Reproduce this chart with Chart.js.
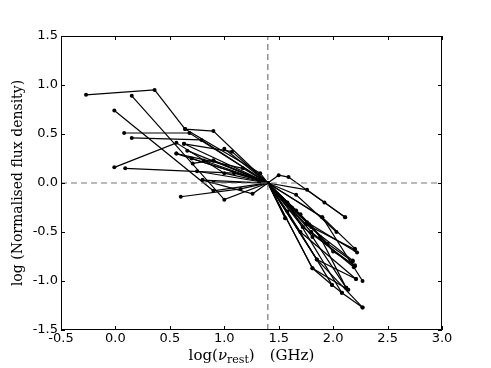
<!DOCTYPE html>
<html lang="en">
<head>
    <meta charset="UTF-8">
    <title>Normalised spectra</title>
    <script src="https://cdn.jsdelivr.net/npm/chart.js"></script>
    <style>
        body { margin: 0; background: #ffffff; }
        #wrap { width: 491px; height: 368px; }
    </style>
</head>
<body>
    <div id="wrap"><canvas id="specChart" width="491" height="368"></canvas></div>

    <script>
        // Axis ticks
        const xTicks = [-0.5, 0.0, 0.5, 1.0, 1.5, 2.0, 2.5, 3.0];
        const yTicks = [-1.5, -1.0, -0.5, 0.0, 0.5, 1.0, 1.5];

        // Normalisation frequency (dashed reference lines)
        const normFreq = 1.4;
        const normFlux = 0.0;

        // One spectrum per source: log frequency, log normalised flux density
        const freqs = [
            [-0.27, 0.36, 0.64, 0.90, 1.40, 1.80, 2.20],
            [0.15, 1.00, 1.40, 1.85, 2.21],
            [-0.01, 0.90, 1.40, 1.56],
            [0.08, 0.68, 1.40, 1.66, 2.03],
            [0.15, 0.79, 1.40, 1.76, 2.11],
            [-0.01, 0.56, 1.00, 1.40, 1.90, 2.20],
            [0.09, 1.09, 1.40, 1.81, 2.14],
            [0.60, 1.15, 1.40, 1.58, 1.99],
            [0.63, 1.07, 1.40, 1.50, 1.59, 1.92, 2.11],
            [0.56, 1.17, 1.40, 1.56],
            [0.71, 0.90, 1.40, 1.85, 2.27],
            [0.81, 1.40, 1.81, 1.99, 2.08],
            [0.80, 1.26, 1.40, 1.75, 2.18],
            [0.90, 1.40, 1.80, 2.19],
            [1.00, 1.40, 1.90, 2.27],
            [0.64, 1.33, 1.40, 1.76, 2.22],
            [0.90, 1.40, 1.72, 2.20],
            [0.56, 1.40, 1.81, 2.12],
            [0.80, 1.40, 1.58, 2.08, 2.27],
            [0.63, 1.40, 1.70, 2.21],
            [0.70, 1.40, 1.62, 1.78, 2.00, 2.20],
            [0.75, 1.40, 1.70, 1.95, 2.18],
            [0.66, 1.40, 1.66, 1.88, 2.12]
        ];
        const fluxes = [
            [0.90, 0.95, 0.55, 0.53, 0.00, -0.45, -0.68],
            [0.89, -0.17, 0.00, -0.78, -0.98],
            [0.74, -0.08, 0.00, -0.36],
            [0.51, 0.51, 0.00, -0.12, -0.50],
            [0.46, 0.44, 0.00, -0.07, -0.35],
            [0.16, 0.41, 0.10, 0.00, -0.35, -0.67],
            [0.15, 0.10, 0.00, -0.87, -1.09],
            [-0.14, -0.06, 0.00, -0.29, -1.04],
            [0.40, 0.32, 0.00, 0.08, 0.06, -0.20, -0.35],
            [0.30, 0.15, 0.00, -0.36],
            [0.20, 0.23, 0.00, -0.78, -1.27],
            [0.23, 0.00, -0.87, -1.04, -1.12],
            [0.03, -0.11, 0.00, -0.42, -0.79],
            [0.01, 0.00, -0.50, -0.86],
            [0.35, 0.00, -0.35, -1.00],
            [0.55, 0.10, 0.00, -0.40, -0.71],
            [0.23, 0.00, -0.45, -0.85],
            [0.30, 0.00, -0.55, -1.07],
            [0.03, 0.00, -0.20, -1.12, -1.27],
            [0.40, 0.00, -0.50, -0.98],
            [0.25, 0.00, -0.25, -0.42, -0.70, -0.84],
            [0.12, 0.00, -0.32, -0.62, -0.80],
            [0.33, 0.00, -0.28, -0.55, -1.07]
        ];

        const datasets = freqs.map((xs, i) => ({
            data: xs.map((x, j) => ({ x: x, y: fluxes[i][j] })),
            borderColor: '#000000',
            backgroundColor: '#000000',
            borderWidth: 1.2,
            pointRadius: 2,
            pointBorderWidth: 0,
            showLine: true,
            tension: 0
        }));

        // Dashed reference lines
        datasets.unshift({
            data: [{ x: normFreq, y: -1.5 }, { x: normFreq, y: 1.5 }],
            borderColor: '#777777', borderWidth: 1.2, borderDash: [6, 4],
            pointRadius: 0, showLine: true
        });
        datasets.unshift({
            data: [{ x: -0.5, y: normFlux }, { x: 3.0, y: normFlux }],
            borderColor: '#777777', borderWidth: 1.2, borderDash: [6, 4],
            pointRadius: 0, showLine: true
        });

        // Frame, inward ticks on all sides, and the x-axis title with subscript
        const framePlugin = {
            id: 'frame',
            afterDraw(chart) {
                const { ctx, chartArea: a, scales } = chart;
                ctx.save();
                ctx.strokeStyle = '#000000';
                ctx.lineWidth = 1;
                ctx.strokeRect(a.left + 0.5, a.top + 0.5, a.right - a.left - 1, a.bottom - a.top - 1);
                ctx.beginPath();
                xTicks.forEach(v => {
                    const px = Math.round(scales.x.getPixelForValue(v)) + 0.5;
                    ctx.moveTo(px, a.bottom); ctx.lineTo(px, a.bottom - 4);
                    ctx.moveTo(px, a.top); ctx.lineTo(px, a.top + 4);
                });
                yTicks.forEach(v => {
                    const py = Math.round(scales.y.getPixelForValue(v)) + 0.5;
                    ctx.moveTo(a.left, py); ctx.lineTo(a.left + 4, py);
                    ctx.moveTo(a.right, py); ctx.lineTo(a.right - 4, py);
                });
                ctx.stroke();

                // x title: log(ν_rest)  (GHz)
                ctx.fillStyle = '#000000';
                ctx.textBaseline = 'alphabetic';
                const big = '15px "DejaVu Serif"';
                const small = '11px "DejaVu Serif"';
                const parts = [
                    ['log(', big, 0], ['\u03bd', 'italic ' + big, 0], ['rest', small, 3],
                    [')\u2002\u2002(GHz)', big, 0]
                ];
                let total = 0;
                parts.forEach(p => { ctx.font = p[1]; total += ctx.measureText(p[0]).width; });
                let x = (a.left + a.right) / 2 - total / 2;
                const base = 360;
                parts.forEach(p => {
                    ctx.font = p[1];
                    ctx.fillText(p[0], x, base + p[2]);
                    x += ctx.measureText(p[0]).width;
                });
                ctx.restore();
            }
        };

        const tickFont = { family: '"DejaVu Sans"', size: 13 };

        new Chart(document.getElementById('specChart').getContext('2d'), {
            type: 'scatter',
            data: { datasets: datasets },
            options: {
                responsive: false,
                animation: false,
                layout: { padding: { top: 36, right: 49, left: 0, bottom: 0 } },
                plugins: { legend: { display: false }, tooltip: { enabled: false } },
                scales: {
                    x: {
                        min: -0.5, max: 3.0,
                        afterBuildTicks: s => { s.ticks = xTicks.map(v => ({ value: v })); },
                        afterFit: s => { s.height = 38; },
                        grid: { display: false, drawTicks: false },
                        border: { display: false },
                        ticks: {
                            color: '#000000', font: tickFont, padding: 1, maxRotation: 0,
                            callback: v => v.toFixed(1)
                        }
                    },
                    y: {
                        min: -1.5, max: 1.5,
                        afterBuildTicks: s => { s.ticks = yTicks.map(v => ({ value: v })); },
                        afterFit: s => { s.width = 61; },
                        grid: { display: false, drawTicks: false },
                        border: { display: false },
                        ticks: {
                            color: '#000000', font: tickFont, padding: 3,
                            callback: v => v.toFixed(1)
                        },
                        title: {
                            display: true,
                            text: 'log (Normalised flux density)',
                            color: '#000000',
                            font: { family: '"DejaVu Serif"', size: 14 },
                            padding: { top: 10, bottom: 0 }
                        }
                    }
                }
            },
            plugins: [framePlugin]
        });
    </script>
</body>
</html>
